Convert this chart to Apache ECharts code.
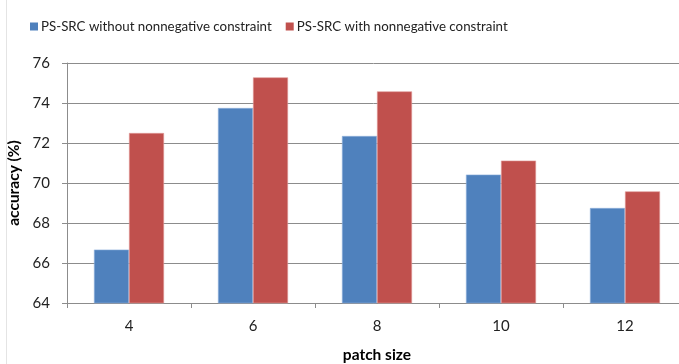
<!DOCTYPE html>
<html><head><meta charset="utf-8">
<script src="https://cdn.jsdelivr.net/npm/echarts@6/dist/echarts.min.js"></script>
<style>html,body{margin:0;padding:0;background:#fff}#c{width:679px;height:364px}</style>
</head><body><div id="c"></div>
<script>
const categories = ['4', '6', '8', '10', '12'];
const withoutNN = [66.67, 73.75, 72.35, 70.42, 68.75];
const withNN = [72.5, 75.28, 74.58, 71.12, 69.58];
const seriesNames = ['PS-SRC without nonnegative constraint', 'PS-SRC with nonnegative constraint'];

const chart = echarts.init(document.getElementById('c'));
const font = 'Lato';
chart.setOption({
  animation: false,
  graphic: [{ type: 'line', shape: { x1: 6.5, y1: 0, x2: 6.5, y2: 364 }, style: { stroke: '#e4e4e4', lineWidth: 1 } }],
  legend: {
    top: 15, left: 25, itemWidth: 8, itemHeight: 8, itemGap: 14,
    icon: 'rect',
    itemStyle: { borderWidth: 0 },
    textStyle: { fontFamily: font, fontSize: 13.3, color: '#222', padding: [0, 0, 0, -2] },
    data: seriesNames
  },
  grid: { left: 67, right: -8, top: 63, bottom: 61, outerBoundsMode: 'none', containLabel: false },
  xAxis: {
    type: 'category', data: categories,
    name: 'patch size', nameLocation: 'middle', nameGap: 44,
    nameTextStyle: { fontFamily: font, fontSize: 15.5, fontWeight: 'bold', color: '#000' },
    axisLine: { lineStyle: { color: '#8c8c8c' } },
    axisTick: { show: true, length: 5, lineStyle: { color: '#8c8c8c' } },
    axisLabel: { fontFamily: font, fontSize: 15, color: '#222', margin: 16 }
  },
  yAxis: {
    type: 'value', min: 64, max: 76, interval: 2,
    name: 'accuracy (%)', nameLocation: 'middle', nameGap: 42,
    nameTextStyle: { fontFamily: font, fontSize: 15.5, fontWeight: 'bold', color: '#000' },
    axisLine: { show: true, lineStyle: { color: '#8c8c8c' } },
    axisTick: { show: true, length: 5, lineStyle: { color: '#8c8c8c' } },
    axisLabel: { fontFamily: font, fontSize: 15, color: '#222', margin: 17 },
    splitLine: { lineStyle: { color: '#8c8c8c' } }
  },
  series: [
    { name: seriesNames[0], type: 'bar', data: withoutNN, barGap: '0%', barCategoryGap: '43.5%',
      itemStyle: { color: '#4F81BD', borderColor: '#8fb0dc', borderWidth: 0.6 } },
    { name: seriesNames[1], type: 'bar', data: withNN,
      itemStyle: { color: '#C0504D', borderColor: '#e09a98', borderWidth: 0.6 } }
  ]
});
</script></body></html>
